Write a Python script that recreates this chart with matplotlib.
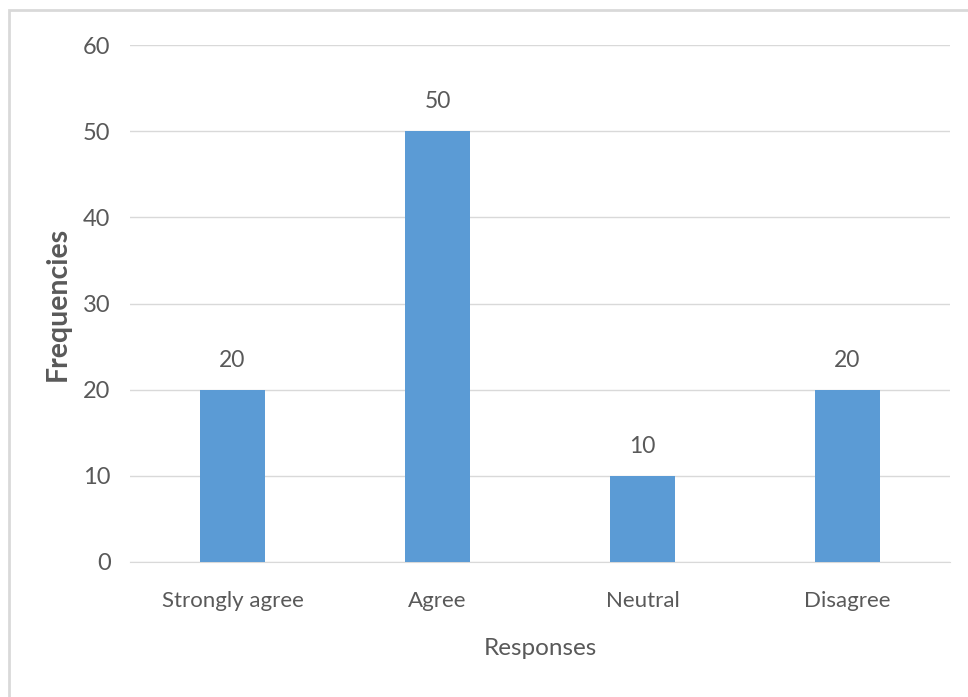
import matplotlib.pyplot as plt
from matplotlib.patches import Rectangle

# chart data
responses = ['Strongly agree', 'Agree', 'Neutral', 'Disagree']
frequencies = [20, 50, 10, 20]
y_ticks = [0, 10, 20, 30, 40, 50, 60]

plt.rcParams['font.family'] = ['Lato', 'DejaVu Sans']
text_color = '#595959'
bar_color = '#5B9BD5'

fig = plt.figure(figsize=(9.68, 6.97), dpi=100)
ax = fig.add_axes([0.1343, 0.1937, 0.8471, 0.7417])

# frame around the whole chart area, like the Excel chart border
fig.patches.append(Rectangle((9 / 968, -0.05), 1.1, 1 - 10 / 697 + 0.05,
                             transform=fig.transFigure, fill=False,
                             edgecolor='#D9D9D9', linewidth=2))

x = range(len(responses))
bars = ax.bar(x, frequencies, width=0.317, color=bar_color, zorder=3)
for b, v in zip(bars, frequencies):
    ax.text(b.get_x() + b.get_width() / 2, v + 2.2, str(v), ha='center', va='bottom',
            fontsize=16.5, color=text_color)

ax.set_xlim(-0.5, 3.5)
ax.set_ylim(0, 60)
ax.set_yticks(y_ticks)
ax.set_xticks(list(x))
ax.set_xticklabels(responses)
ax.tick_params(axis='x', length=0, labelsize=16, labelcolor=text_color, pad=21)
ax.tick_params(axis='y', length=0, labelsize=17, labelcolor=text_color, pad=14)
ax.grid(axis='y', color='#D9D9D9', linewidth=1, zorder=0)
for side in ['top', 'right', 'left']:
    ax.spines[side].set_visible(False)
ax.spines['bottom'].set_color('#D9D9D9')

ax.set_ylabel('Frequencies', fontsize=20.5, fontweight='bold', color=text_color, labelpad=9)
ax.set_xlabel('Responses', fontsize=17.5, color=text_color, labelpad=19)

fig.savefig('out.png', dpi=100)
